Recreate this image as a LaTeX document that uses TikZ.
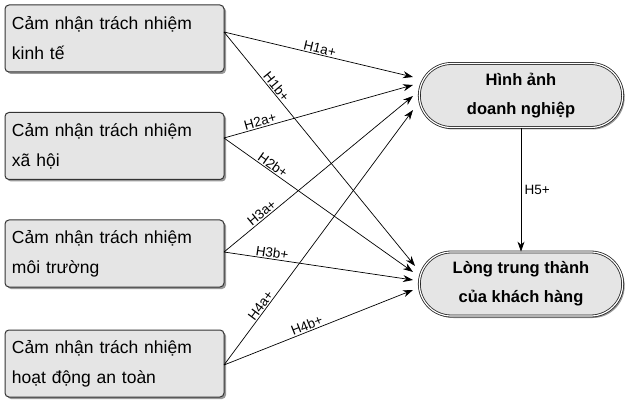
\documentclass[tikz,border=0pt]{standalone}
\usepackage{fontspec}
\setmainfont{Liberation Sans}
\usetikzlibrary{shapes.misc,shadows,arrows.meta}
\begin{document}
\begin{tikzpicture}[x=1pt,y=-1pt,
 box/.style={draw=black!80,line width=1pt,fill=black!10,rounded corners=4pt,minimum width=219pt,minimum height=67pt,text width=205pt,align=left,font=\fontsize{17.5}{30}\selectfont,drop shadow={shadow xshift=2pt,shadow yshift=-2pt,fill=black!40,opacity=1}},
 outc/.style={rounded rectangle,draw=black!85,double,double distance=1.2pt,line width=0.8pt,fill=black!10,minimum width=210pt,minimum height=64pt,align=center,font=\bfseries\fontsize{16.5}{29}\selectfont,drop shadow={shadow xshift=2pt,shadow yshift=-2pt,fill=black!40,opacity=1}},
 arr/.style={-{Stealth[length=10pt,width=7pt]},line width=0.7pt},
 lab/.style={sloped,above,font=\fontsize{13.5}{14}\selectfont,inner sep=1pt}]
\useasboundingbox (0,0) rectangle (638,409);
\node[box] (b1) at (114.5,38.5) {Cảm nhận trách nhiệm\\kinh tế};
\node[box] (b2) at (114.5,146) {Cảm nhận trách nhiệm\\xã hội};
\node[box] (b3) at (114.5,253.5) {Cảm nhận trách nhiệm\\môi trường};
\node[box] (b4) at (114.5,363.5) {Cảm nhận trách nhiệm\\hoạt động an toàn};
\node[outc] (o1) at (521,95.5) {Hình ảnh\\doanh nghiệp};
\node[outc] (o2) at (521,284) {Lòng trung thành\\của khách hàng};
\coordinate (s1) at (224,32);
\coordinate (s2) at (224,138);
\coordinate (s3) at (224,252);
\coordinate (s4) at (224,365);
\draw[arr] (s1) -- node[lab,pos=0.5]{H1a+} (413,77);
\draw[arr] (s1) -- node[lab,pos=0.25]{H1b+} (415,266);
\draw[arr] (s2) -- node[lab,pos=0.2]{H2a+} (413,85);
\draw[arr] (s2) -- node[lab,pos=0.24]{H2b+} (413,272);
\draw[arr] (s3) -- node[lab,pos=0.22]{H3a+} (413,96);
\draw[arr] (s3) -- node[lab,pos=0.25]{H3b+} (413,280);
\draw[arr] (s4) -- node[lab,pos=0.22]{H4a+} (413,110);
\draw[arr] (s4) -- node[lab,pos=0.45]{H4b+} (413,290);
\draw[arr] (o1.south) -- node[right,pos=0.5,font=\fontsize{13.5}{14}\selectfont]{H5+} (o2.north);
\end{tikzpicture}
\end{document}
